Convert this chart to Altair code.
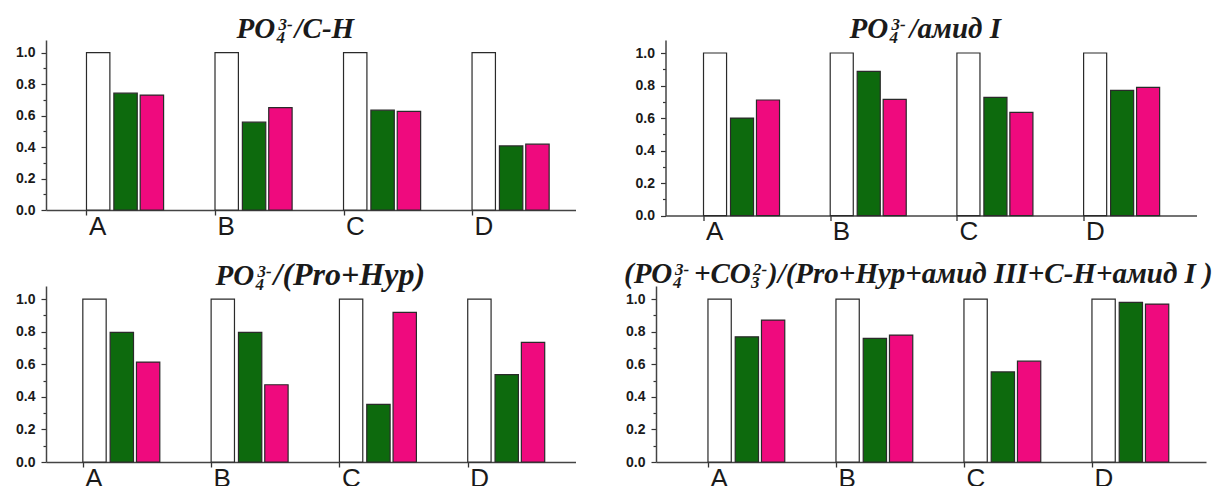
import json
import altair as alt
import pandas as pd

# ---------------- data ----------------
categories = ["A", "B", "C", "D"]
series_names = ["контроль", "группа 1", "группа 2"]

control = [1.0, 1.0, 1.0, 1.0]

ch_green = [0.742, 0.558, 0.634, 0.407]
ch_pink = [0.730, 0.651, 0.626, 0.418]

amide_green = [0.600, 0.887, 0.727, 0.770]
amide_pink = [0.711, 0.715, 0.635, 0.789]

prohyp_green = [0.796, 0.796, 0.354, 0.536]
prohyp_pink = [0.613, 0.474, 0.918, 0.734]

sum_green = [0.768, 0.758, 0.553, 0.980]
sum_pink = [0.871, 0.779, 0.619, 0.969]

y_ticks = [0.0, 0.1, 0.2, 0.3, 0.4, 0.5, 0.6, 0.7, 0.8, 0.9, 1.0]

# ---------------- style ----------------
bar_colors = ["#ffffff", "#0d6a0d", "#ef0a7e"]
bar_start = [0.0, 0.213, 0.418]   # offset of each series inside a group (x units)
bar_w = 0.182
TITLE_FONT = "Liberation Serif"
AXIS_FONT = "Liberation Sans"
INK = "#1a1a1a"


def x_axis():
    return alt.Axis(
        values=[1, 2, 3, 4],
        labelExpr=f"{json.dumps(categories)}[datum.value - 1]",
        tickSize=5, tickColor="#333", tickWidth=1.3,
        domainColor="#444", domainWidth=1.5,
        labelFont=AXIS_FONT, labelFontSize=26, labelColor=INK,
        labelAlign="left", labelOffset=2, labelPadding=-2,
        labelFlush=False, labelOverlap=False, grid=False, title=None,
    )


def y_axis():
    return alt.Axis(
        values=y_ticks,
        labelExpr="round(datum.value*10) % 2 == 0 ? format(datum.value, '.1f') : ''",
        tickSize={"condition": {"test": "round(datum.value*10) % 2 == 0", "value": 5}, "value": 3},
        tickColor="#333", tickWidth=1.2,
        domainColor="#444", domainWidth=1.5,
        labelFont=AXIS_FONT, labelFontSize=14, labelFontWeight="bold", labelColor=INK,
        labelPadding=6, labelOverlap=False, grid=False, title=None,
    )


def panel(green, pink, xdom, w, h, pieces, title_rel):
    rows = []
    for i, cat in enumerate(categories):
        vals = [control[i], green[i], pink[i]]
        for j, (s, v) in enumerate(zip(series_names, vals)):
            x0 = i + 1 + bar_start[j]
            rows.append({"category": cat, "series": s, "value": v,
                         "x0": x0, "x1": x0 + bar_w})
    df = pd.DataFrame(rows)
    bars = alt.Chart(df).mark_bar(stroke="#2a2a2a", strokeWidth=1.2).encode(
        x=alt.X("x0:Q", scale=alt.Scale(domain=xdom, nice=False, zero=False), axis=x_axis()),
        x2="x1:Q",
        y=alt.Y("value:Q", scale=alt.Scale(domain=[0, 1.08], nice=False), axis=y_axis()),
        y2=alt.datum(0),
        fill=alt.Fill("series:N", scale=alt.Scale(domain=series_names, range=bar_colors), legend=None),
    )
    layers = [bars]
    bx, by = title_rel
    for text, dx, dy, fs in pieces:
        layers.append(
            alt.Chart(pd.DataFrame({"t": [text]})).mark_text(
                align="left", baseline="alphabetic", font=TITLE_FONT,
                fontStyle="italic", fontWeight="bold", fontSize=fs, color=INK,
            ).encode(x=alt.value(bx + dx), y=alt.value(by + dy), text="t:N")
        )
    return alt.layer(*layers).properties(width=w, height=h)


MAIN, SUB = 29, 17

p1 = panel(ch_green, ch_pink, [0.685, 4.805], 529.5, 170,
           [("PO", 0, 0, MAIN), ("4", 40, 5, SUB), ("3-", 42, -8, SUB), ("/C-H", 58, 0, MAIN)],
           (190.5, -2))
p2 = panel(amide_green, amide_pink, [0.700, 4.891], 531, 175.6,
           [("PO", 0, 0, MAIN), ("4", 40, 5, SUB), ("3-", 42, -8, SUB), ("/амид I", 60, 0, MAIN)],
           (184, -2))
p3 = panel(prohyp_green, prohyp_pink, [0.713, 4.840], 529.5, 176,
           [("PO", 0, 0, MAIN), ("4", 40, 5, SUB), ("3-", 42, -8, SUB), ("/(Pro+Hyp)", 58, 0, 32)],
           (169.5, -1))
p4 = panel(sum_green, sum_pink, [0.594, 4.891], 550, 176,
           [("(PO", 0, 0, MAIN), ("4", 49, 5, SUB), ("3-", 51, -8, SUB),
            ("+CO", 70, 0, MAIN), ("3", 127, 5, SUB), ("2-", 129, -8, SUB),
            (")/(Pro+Hyp+амид III+C-H+амид I )", 144, 0, MAIN)],
           (-32, -3))

chart = alt.vconcat(
    alt.hconcat(p1, p2, spacing=58.5),
    alt.hconcat(p3, p4, spacing=48),
    spacing=14,
).properties(
    padding={"left": 7, "top": 7, "right": 0, "bottom": 0}
).configure_view(stroke=None)

chart.save("out.html", embed_options={"renderer": "svg", "actions": False})
